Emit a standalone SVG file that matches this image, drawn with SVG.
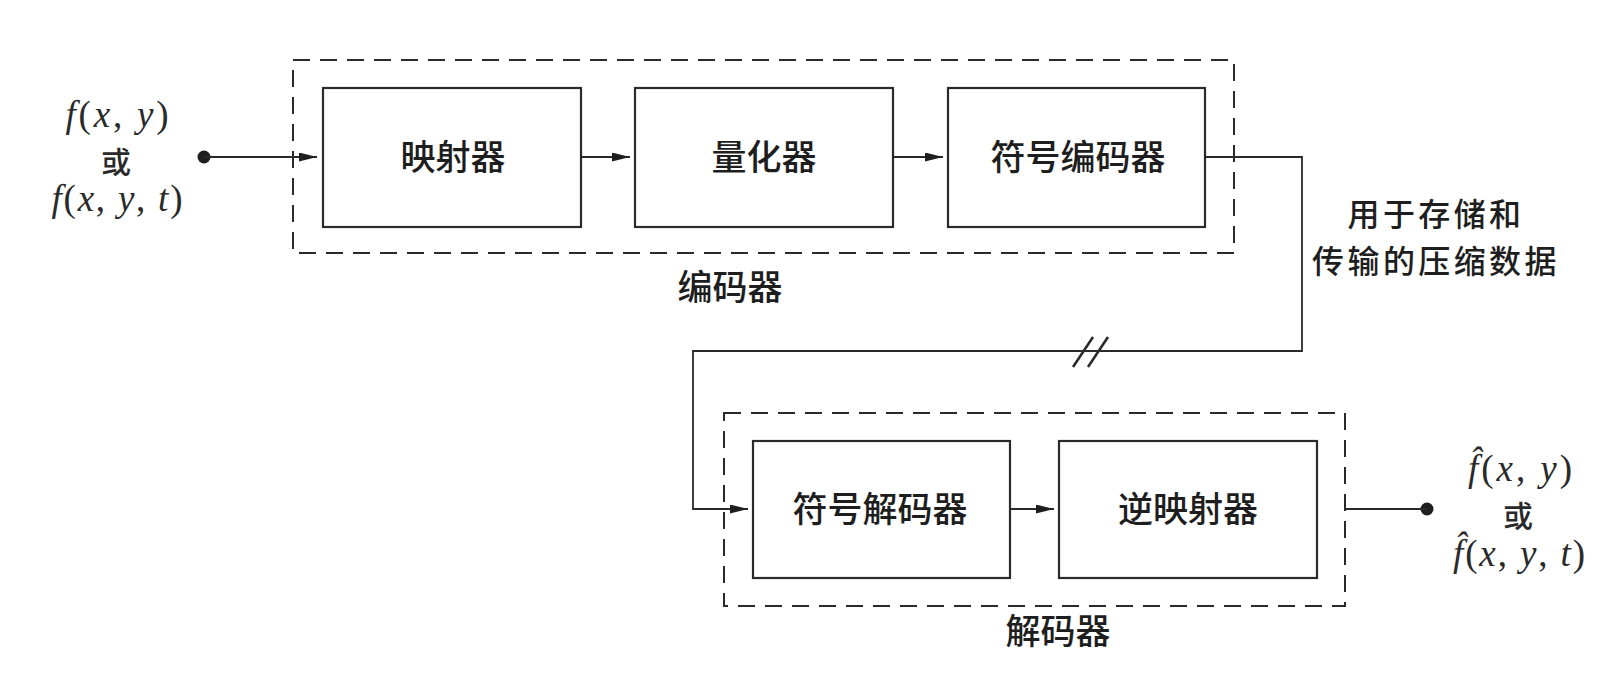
<svg xmlns="http://www.w3.org/2000/svg" width="1607" height="673" viewBox="0 0 1607 673">
  <defs>
    <style>
      .box { fill: #ffffff; stroke: #2a2a2a; stroke-width: 2.2; }
      .dash { fill: none; stroke: #2a2a2a; stroke-width: 2; stroke-dasharray: 17 10; }
      .wire { fill: none; stroke: #2a2a2a; stroke-width: 1.8; }
      .brk { fill: none; stroke: #2a2a2a; stroke-width: 2.6; }
      .cjk { font-family: "Noto Sans CJK SC", "Noto Sans", sans-serif; font-size: 35px; font-weight: 500; fill: #1e1e1e; text-anchor: middle; }
      .lbl { font-family: "Noto Sans CJK SC", "Noto Sans", sans-serif; font-size: 32px; letter-spacing: 3.4px; font-weight: 500; fill: #1e1e1e; text-anchor: middle; }
      .or { font-family: "Noto Sans CJK SC", "Noto Sans", sans-serif; font-size: 30px; font-weight: 500; fill: #2a2a2a; text-anchor: middle; }
      .math { font-family: "Liberation Serif", "Times New Roman", serif; font-size: 37px; fill: #2a2a2a; text-anchor: middle; }
      .it { font-style: italic; }
      .dot { fill: #1e1e1e; }
    </style>
    <marker id="arr" markerUnits="userSpaceOnUse" markerWidth="20" markerHeight="10" refX="18" refY="4.5" orient="auto">
      <path d="M0,0 L18,4.5 L0,9 Z" fill="#1e1e1e"/>
    </marker>
  </defs>
  <rect width="1607" height="673" fill="#ffffff"/>

  <g id="encoder">
    <rect class="dash" x="293" y="60" width="941" height="193"/>
    <text class="cjk" x="730" y="300">编码器</text>
  </g>
  <g id="mapper">
    <rect class="box" x="323" y="88" width="258" height="139"/>
    <text class="cjk" x="453" y="170">映射器</text>
  </g>
  <g id="quantizer">
    <rect class="box" x="635" y="88" width="258" height="139"/>
    <text class="cjk" x="764" y="170">量化器</text>
  </g>
  <g id="symbol-encoder">
    <rect class="box" x="948" y="88" width="257" height="139"/>
    <text class="cjk" x="1078" y="170">符号编码器</text>
  </g>

  <g id="decoder">
    <rect class="dash" x="724" y="413" width="621" height="193"/>
    <text class="cjk" x="1058" y="644">解码器</text>
  </g>
  <g id="symbol-decoder">
    <rect class="box" x="753" y="441" width="257" height="137"/>
    <text class="cjk" x="880" y="522">符号解码器</text>
  </g>
  <g id="inverse-mapper">
    <rect class="box" x="1059" y="441" width="258" height="137"/>
    <text class="cjk" x="1188" y="522">逆映射器</text>
  </g>

  <g id="input">
    <circle class="dot" cx="204" cy="157" r="6.5"/>
    <text class="math" x="117" y="127" textLength="103" lengthAdjust="spacing"><tspan class="it">f</tspan>(<tspan class="it">x</tspan>, <tspan class="it">y</tspan>)</text>
    <text class="or" x="116" y="173">或</text>
    <text class="math" x="117" y="211" textLength="131" lengthAdjust="spacing"><tspan class="it">f</tspan>(<tspan class="it">x</tspan>, <tspan class="it">y</tspan>, <tspan class="it">t</tspan>)</text>
  </g>

  <g id="output">
    <circle class="dot" cx="1427" cy="509" r="6.5"/>
    <text class="math" x="1520" y="481" textLength="104" lengthAdjust="spacing"><tspan class="it">f̂</tspan>(<tspan class="it">x</tspan>, <tspan class="it">y</tspan>)</text>
    <text class="or" x="1518" y="527">或</text>
    <text class="math" x="1519" y="566" textLength="132" lengthAdjust="spacing"><tspan class="it">f̂</tspan>(<tspan class="it">x</tspan>, <tspan class="it">y</tspan>, <tspan class="it">t</tspan>)</text>
  </g>

  <g id="data-label">
    <text class="lbl"><tspan x="1436" y="226">用于存储和</tspan><tspan x="1436" y="273">传输的压缩数据</tspan></text>
  </g>

  <g id="connectors">
    <line class="wire" x1="204" y1="157" x2="317" y2="157" marker-end="url(#arr)"/>
    <line class="wire" x1="581" y1="157" x2="630" y2="157" marker-end="url(#arr)"/>
    <line class="wire" x1="893" y1="157" x2="943" y2="157" marker-end="url(#arr)"/>
    <polyline class="wire" points="1205,157 1302,157 1302,351 693,351 693,509 748,509" marker-end="url(#arr)"/>
    <line class="brk" x1="1073" y1="367" x2="1093" y2="337"/>
    <line class="brk" x1="1088" y1="367" x2="1108" y2="337"/>
    <line class="wire" x1="1010" y1="509" x2="1054" y2="509" marker-end="url(#arr)"/>
    <line class="wire" x1="1345" y1="509" x2="1427" y2="509"/>
  </g>
</svg>
